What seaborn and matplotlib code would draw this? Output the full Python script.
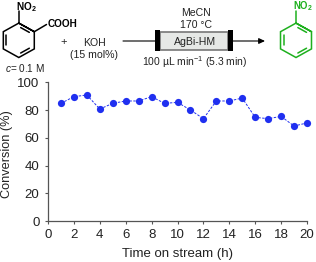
import matplotlib
matplotlib.use("Agg")
import matplotlib.pyplot as plt
from matplotlib.patches import Rectangle
import numpy as np
import pandas as pd
import seaborn as sns

hours = list(range(1, 21))
conversion = [84.8, 89.6, 90.8, 80.7, 84.8, 86.5, 86.5, 89.6, 84.8, 85.5,
              80.0, 73.8, 86.5, 86.5, 88.6, 74.7, 73.8, 75.4, 68.5, 70.7]
xticks = list(range(0, 21, 2))
yticks = list(range(0, 101, 20))

sns.set_theme(style="white")
plt.rcParams['font.family'] = ['Liberation Sans', 'DejaVu Sans']
plt.rcParams['mathtext.fontset'] = 'custom'
plt.rcParams['mathtext.rm'] = 'Liberation Sans'
plt.rcParams['mathtext.it'] = 'Liberation Sans:italic'
plt.rcParams['mathtext.bf'] = 'Liberation Sans:bold'
W, H = 316, 262
fig = plt.figure(figsize=(W/100, H/100), dpi=100)
left, right, top, bottom = 48, 307, 82.2, 221.3
ax = fig.add_axes([left/W, 1-bottom/H, (right-left)/W, (bottom-top)/H])
df = pd.DataFrame({"h": hours, "c": conversion})
sns.lineplot(data=df, x="h", y="c", ax=ax, color="#1f2ff0", lw=0.7, linestyle=(0, (2.5, 1.5)),
             marker="o", ms=5.2, mec="#1f2ff0", mew=0, clip_on=False)
ax.set_xlim(0, 20)
ax.set_ylim(0, 100)
ax.set_xticks(xticks)
ax.set_yticks(yticks)
ax.tick_params(axis="both", length=2.2, width=0.8, color="#555555", labelsize=9.5,
               labelcolor="#222222", bottom=True, left=True)
ax.tick_params(axis="y", pad=4)
ax.tick_params(axis="x", pad=3.5)
ax.set_xlabel("Time on stream (h)", fontsize=9.5, color="#222222", labelpad=5)
ax.set_ylabel("Conversion (%)", fontsize=9.2, color="#222222")
ax.yaxis.set_label_coords(-0.135, 0.485)
for s in ("top", "right"):
    ax.spines[s].set_visible(False)
for s in ("left", "bottom"):
    ax.spines[s].set_linewidth(0.9)
    ax.spines[s].set_color("#555555")

# Reaction scheme overlay, in pixel coordinates
ov = fig.add_axes([0, 0, 1, 1])
ov.set_xlim(0, W)
ov.set_ylim(H, 0)
ov.axis("off")
ov.patch.set_alpha(0)

def ring(x0, col, lw=1.1):
    cx, cy = x0, 40.3
    r = 17.2
    ang = np.deg2rad(np.arange(-90, 360, 60))
    xs, ys = cx + r*np.cos(ang)*1.04, cy + r*np.sin(ang)
    ov.plot(xs, ys, color=col, lw=lw, solid_joinstyle="miter")
    for i in (0, 2, 4):
        j = i + 1
        ax2, ay2 = xs[i]+(xs[j]-xs[i])*0.15, ys[i]+(ys[j]-ys[i])*0.15
        bx2, by2 = xs[i]+(xs[j]-xs[i])*0.85, ys[i]+(ys[j]-ys[i])*0.85
        f = 0.8
        ov.plot([cx+(ax2-cx)*f, cx+(bx2-cx)*f], [cy+(ay2-cy)*f, cy+(by2-cy)*f], color=col, lw=lw)
    ov.plot([cx, cx], [cy-r, cy-r-12], color=col, lw=lw)

def label(x, y, s, size=7.6, color="#222222", **kw):
    ov.text(x, y, s, fontsize=size, color=color, ha="center", va="center", **kw)

ring(18.8, "black")
ov.plot([34.3, 46.5], [31.7, 24.5], color="black", lw=1.1)
label(26, 7.5, r"NO$_\mathbf{2}$", size=7.2, color="black", fontweight="bold")
label(62.5, 24, "COOH", size=7.2, color="black", fontweight="bold")
label(63.5, 42.5, "+", size=8)
label(94, 42.5, "KOH")
label(94, 55, "(15 mol%)")
label(25, 67.5, "$\\mathit{c}$= 0.1 M", size=7.2)
ov.annotate("", xy=(155, 41), xytext=(123, 41), arrowprops=dict(arrowstyle="-", color="black", lw=0.8, shrinkA=0, shrinkB=0))
ov.add_patch(Rectangle((160, 31.5), 68, 18.5, fc="#e6e8e6", ec="#777777", lw=1.2))
ov.add_patch(Rectangle((155, 30), 5, 21, fc="black", ec="black", lw=0))
ov.add_patch(Rectangle((227.5, 30), 5, 21, fc="black", ec="black", lw=0))
ov.annotate("", xy=(265, 41), xytext=(232, 41),
            arrowprops=dict(arrowstyle="-|>,head_width=0.14,head_length=0.3", color="black", lw=0.8, shrinkA=0, shrinkB=0))
label(196.5, 12.7, "MeCN")
label(196, 25, "170 °C")
label(195, 42, "AgBi-HM")
label(195, 62, "100 µL min$^{-1}$ (5.3 min)", size=7.5)
ring(296, "#1eb01e")
label(303, 6.5, r"NO$_\mathbf{2}$", size=6.9, color="#1eb01e", fontweight="bold")

fig.savefig("out.png", dpi=100)
